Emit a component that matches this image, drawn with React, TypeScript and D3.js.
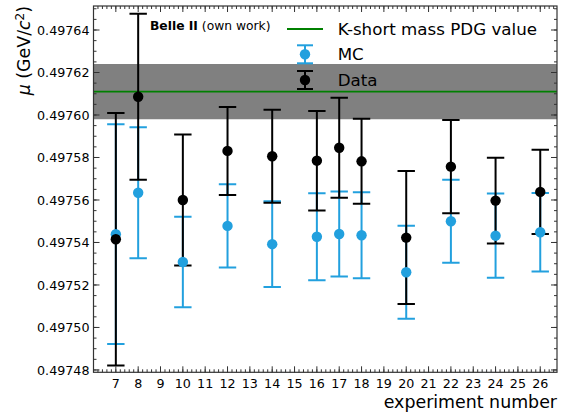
import React from "react";
import * as d3 from "d3";

const experiments = [7, 8, 10, 12, 14, 16, 17, 18, 20, 22, 24, 26];
const dataMu = [0.4975415, 0.4976086, 0.49756, 0.4975831, 0.4975806, 0.4975785, 0.4975846, 0.4975782, 0.4975423, 0.4975757, 0.4975597, 0.4975638];
const dataErr = [0.0000594, 0.0000391, 0.0000308, 0.0000207, 0.0000219, 0.0000234, 0.0000235, 0.00002, 0.0000313, 0.0000219, 0.0000202, 0.0000198];
const mcMu = [0.4975439, 0.4975634, 0.4975308, 0.4975478, 0.4975392, 0.4975427, 0.497544, 0.4975434, 0.497526, 0.49755, 0.4975432, 0.4975448];
const mcErr = [0.0000517, 0.0000308, 0.0000213, 0.0000196, 0.0000202, 0.0000205, 0.00002, 0.0000202, 0.0000219, 0.0000195, 0.0000198, 0.0000185];
const pdgMass = 0.497611;
const pdgErr = 0.000013;
const xTickLabels = d3.range(7, 27);
const yTickValues = [0.49748, 0.4975, 0.49752, 0.49754, 0.49756, 0.49758, 0.4976, 0.49762, 0.49764];
const legendLabels = ["K-short mass PDG value", "MC", "Data"];

const W = 562, H = 417;
const L = 93.5, R = 557, T = 6, B = 372.3;
const BLUE = "#22a0de";
const SPINE = "#333";
const FONT = "DejaVu Sans, sans-serif";

export default function App() {
  const x = d3.scaleLinear().domain([6, 26.75]).range([L, R]);
  const y = d3.scaleLinear().domain([0.4974789, 0.4976513]).range([B, T]);
  const yMinor = d3.range(0, 40).map(i => 0.49748 + i * 0.000005).filter(v => v <= y.domain()[1] && v >= y.domain()[0]);
  const xMinor = d3.range(0, 110).map(i => 6 + i * 0.2).filter(v => v <= 26.75);
  const fmt = d3.format(".5f");
  const cap = 8.7;

  const bars = (mu: number[], err: number[], color: string, key: string) =>
    experiments.map((e, i) => {
      const cx = x(e);
      const y1 = y(mu[i] + err[i]);
      const y2 = y(mu[i] - err[i]);
      return (
        <g key={key + i} stroke={color} strokeWidth={2}>
          <line x1={cx} x2={cx} y1={y1} y2={y2} />
          <line x1={cx - cap} x2={cx + cap} y1={y1} y2={y1} />
          <line x1={cx - cap} x2={cx + cap} y1={y2} y2={y2} />
        </g>
      );
    });
  const dots = (mu: number[], color: string, key: string) =>
    experiments.map((e, i) => <circle key={key + i} cx={x(e)} cy={y(mu[i])} r={5.2} fill={color} />);

  const legendHandle = (cy: number, color: string) => (
    <g stroke={color} strokeWidth={2}>
      <line x1={305} x2={305} y1={cy - 9} y2={cy + 9} />
      <line x1={297} x2={313} y1={cy - 9} y2={cy - 9} />
      <line x1={297} x2={313} y1={cy + 9} y2={cy + 9} />
      <circle cx={305} cy={cy} r={5.2} fill={color} stroke="none" />
    </g>
  );

  return (
    <svg width={W} height={H} style={{ position: "absolute", left: 0, top: 0, background: "#fff" }} fontFamily={FONT}>
      <defs>
        <clipPath id="plot"><rect x={L} y={T} width={R - L} height={B - T} /></clipPath>
      </defs>
      <g clipPath="url(#plot)">
        <rect x={L} y={y(pdgMass + pdgErr)} width={R - L} height={y(pdgMass - pdgErr) - y(pdgMass + pdgErr)} fill="#808080" />
        <line x1={L} x2={R} y1={y(pdgMass)} y2={y(pdgMass)} stroke="#008000" strokeWidth={1.8} />
        {bars(mcMu, mcErr, BLUE, "mb")}
        {bars(dataMu, dataErr, "#000", "db")}
        {dots(mcMu, BLUE, "md")}
        {dots(dataMu, "#000", "dd")}
      </g>
      <rect x={L} y={T} width={R - L} height={B - T} fill="none" stroke={SPINE} strokeWidth={1.2} />
      {yMinor.map((v, i) => (
        <g key={"ym" + i} stroke={SPINE} strokeWidth={1}>
          <line x1={L} x2={L + 3} y1={y(v)} y2={y(v)} />
          <line x1={R} x2={R - 3} y1={y(v)} y2={y(v)} />
        </g>
      ))}
      {yTickValues.map((v, i) => (
        <g key={"yM" + i}>
          <line x1={L} x2={L + 6} y1={y(v)} y2={y(v)} stroke={SPINE} strokeWidth={1} />
          <line x1={R} x2={R - 6} y1={y(v)} y2={y(v)} stroke={SPINE} strokeWidth={1} />
          <text x={L - 4} y={y(v)} dy="0.36em" textAnchor="end" fontSize={12.7} fill="#000">{fmt(v)}</text>
        </g>
      ))}
      {xMinor.map((v, i) => (
        <g key={"xm" + i} stroke={SPINE} strokeWidth={1}>
          <line x1={x(v)} x2={x(v)} y1={B} y2={B - 3} />
          <line x1={x(v)} x2={x(v)} y1={T} y2={T + 3} />
        </g>
      ))}
      {xTickLabels.map((v, i) => (
        <g key={"xM" + i}>
          <line x1={x(v)} x2={x(v)} y1={B} y2={B - 6} stroke={SPINE} strokeWidth={1} />
          <line x1={x(v)} x2={x(v)} y1={T} y2={T + 6} stroke={SPINE} strokeWidth={1} />
          <text x={x(v)} y={B + 16} textAnchor="middle" fontSize={12.7} fill="#000">{v}</text>
        </g>
      ))}
      <text x={R} y={408} textAnchor="end" fontSize={17.4} fill="#000">experiment number</text>
      <text transform={`translate(30,${T}) rotate(-90)`} textAnchor="end" fontSize={17.4} fill="#000">
        <tspan fontStyle="italic">μ</tspan> (GeV/<tspan fontStyle="italic">c</tspan><tspan dy={-6} fontSize={12}>2</tspan><tspan dy={6}>)</tspan>
      </text>
      <text x={150} y={30} fontSize={12.3} fill="#000">
        <tspan fontWeight="bold">Belle II</tspan> (own work)
      </text>
      <line x1={287} x2={323} y1={29} y2={29} stroke="#008000" strokeWidth={1.8} />
      {legendHandle(54.3, BLUE)}
      {legendHandle(80, "#000")}
      {legendLabels.map((t, i) => (
        <text key={"lg" + i} x={337.7} y={[29, 54.3, 80][i]} dy="0.36em" fontSize={16.7} fill="#000">{t}</text>
      ))}
    </svg>
  );
}
